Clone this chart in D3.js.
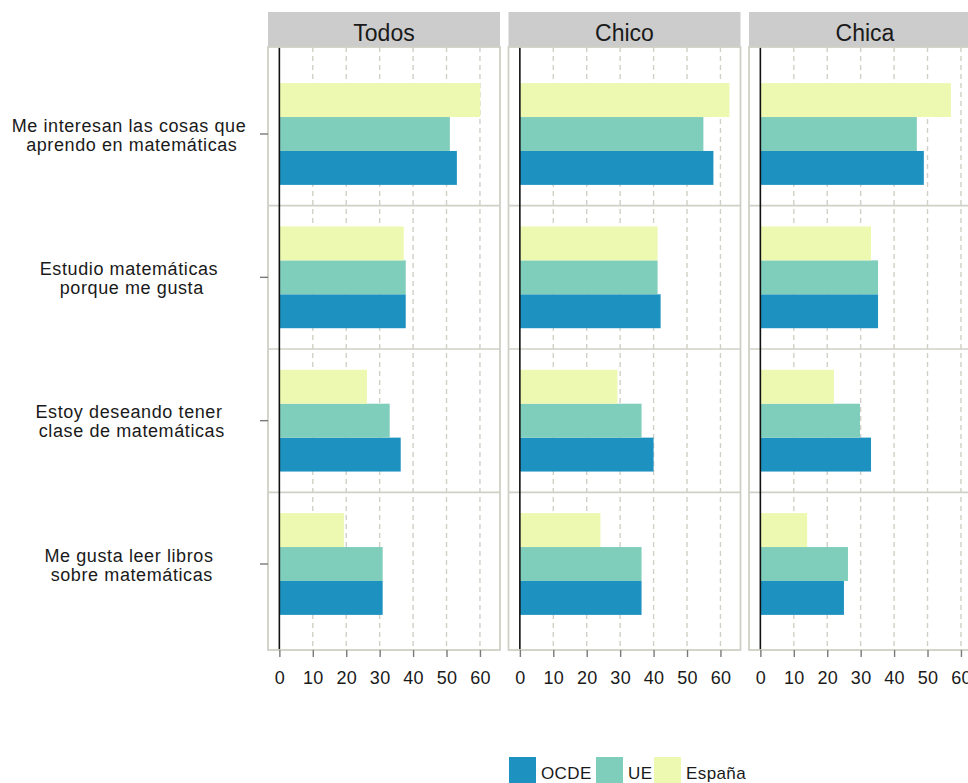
<!DOCTYPE html>
<html>
<head>
<meta charset="utf-8">
<script src="https://cdn.jsdelivr.net/npm/d3@7"></script>
<style>
  html, body { margin: 0; padding: 0; background: #ffffff; }
  svg { display: block; }
  text { font-family: "Liberation Sans", Arial, sans-serif; fill: #1a1a1a; }
</style>
</head>
<body>
<svg id="chart" width="968" height="783"></svg>
<script>
// ---------- data ----------
const categories = [
  ["Me interesan las cosas que", " aprendo en matemáticas"],
  ["Estudio matemáticas", " porque me gusta"],
  ["Estoy deseando tener", " clase de matemáticas"],
  ["Me gusta leer libros", " sobre matemáticas"]
];
const panels = ["Todos", "Chico", "Chica"];
const seriesNames = ["OCDE", "UE", "España"];
const seriesColors = ["#1d91c0", "#7fcdbb", "#edf8b1"];
const xTicks = [0, 10, 20, 30, 40, 50, 60];

// values per panel (Todos, Chico, Chica), per category (top to bottom)
const ocde   = [[53.1, 37.8, 36.3, 30.9], [57.9, 42.1, 40.0, 36.4], [48.9, 35.2, 33.1, 25.0]];
const ue     = [[51.0, 37.8, 33.0, 30.9], [54.9, 41.2, 36.4, 36.4], [46.8, 35.2, 29.8, 26.2]];
const espana = [[60.1, 37.2, 26.2, 19.3], [62.7, 41.2, 29.2, 24.1], [57.0, 33.1, 22.0, 14.0]];
const seriesValues = [ocde, ue, espana];

// ---------- layout ----------
const svg = d3.select("#chart");
const panelLeft0 = 268, panelW = 232, panelStep = 240.5;
const stripTop = 12, stripH = 35;
const plotTop = 47, plotBottom = 650;
const borderColor = "#d0d0c6";
const gridColor = "#d0d0c6";

const y = d3.scaleLinear().domain([-0.6, 3.6]).range([plotTop + 1, plotBottom]);
const groupW = 0.71;
const barW = groupW / 3;
// España on top, UE middle, OCDE bottom
const slot = { "España": 0, "UE": 1, "OCDE": 2 };

panels.forEach((pName, pi) => {
  const left = panelLeft0 + pi * panelStep;
  const x = d3.scaleLinear().domain([-3.4, 66]).range([left, left + panelW]);
  const g = svg.append("g");

  // strip
  g.append("rect").attr("x", left).attr("y", stripTop).attr("width", panelW).attr("height", stripH)
    .attr("fill", "#cccccc");
  g.append("text").attr("x", left + panelW / 2).attr("y", 40.5).attr("text-anchor", "middle")
    .attr("font-size", 23).text(pName);

  // vertical dashed grid
  g.selectAll("line.vg").data(xTicks.filter(d => d !== 0)).join("line")
    .attr("x1", d => x(d)).attr("x2", d => x(d))
    .attr("y1", plotTop).attr("y2", plotBottom)
    .attr("stroke", gridColor).attr("stroke-width", 1.4).attr("stroke-dasharray", "5,4");

  // horizontal solid lines between categories
  g.selectAll("line.hg").data([0.5, 1.5, 2.5]).join("line")
    .attr("x1", left).attr("x2", left + panelW)
    .attr("y1", d => y(d)).attr("y2", d => y(d))
    .attr("stroke", gridColor).attr("stroke-width", 1.6);

  // bars
  seriesNames.forEach((sName, si) => {
    const vals = seriesValues[si][pi];
    g.selectAll("rect.b" + si).data(vals).join("rect")
      .attr("x", x(0))
      .attr("width", d => x(d) - x(0))
      .attr("y", (d, ci) => y(ci - groupW / 2 + slot[sName] * barW))
      .attr("height", y(barW) - y(0))
      .attr("fill", seriesColors[si]);
  });

  // zero line
  g.append("line").attr("x1", x(0)).attr("x2", x(0)).attr("y1", plotTop).attr("y2", plotBottom)
    .attr("stroke", "#111111").attr("stroke-width", 1.6);

  // panel border
  g.append("rect").attr("x", left).attr("y", plotTop).attr("width", panelW).attr("height", plotBottom - plotTop)
    .attr("fill", "none").attr("stroke", borderColor).attr("stroke-width", 1.8);

  // x axis
  const ax = svg.append("g").attr("transform", `translate(0,${plotBottom})`)
    .call(d3.axisBottom(x).tickValues(xTicks).tickSize(7).tickPadding(14).tickFormat(d3.format("d")));
  ax.select(".domain").remove();
  ax.selectAll(".tick line").attr("stroke", "#7a7a7a").attr("stroke-width", 1.4);
  ax.selectAll(".tick text").attr("font-size", 18).attr("fill", "#1a1a1a")
    .style("letter-spacing", "0.3px").attr("font-family", "Liberation Sans, Arial, sans-serif");
});

// y axis ticks (left of first panel)
const ay = svg.append("g");
ay.selectAll("line").data(categories).join("line")
  .attr("x1", 260).attr("x2", panelLeft0)
  .attr("y1", (d, i) => y(i)).attr("y2", (d, i) => y(i))
  .attr("stroke", "#7a7a7a").attr("stroke-width", 1.4);
const labels = ay.selectAll("text").data(categories).join("text")
  .attr("text-anchor", "middle").attr("font-size", 18)
  .style("letter-spacing", "0.6px").style("white-space", "pre");
labels.append("tspan").attr("x", 129).attr("y", (d, i) => y(i) - 2.5).text(d => d[0]);
labels.append("tspan").attr("x", 129).attr("y", (d, i) => y(i) + 16.5).text(d => d[1]);

// legend
const legendX = [509, 596, 654];
const leg = svg.append("g");
seriesNames.forEach((s, i) => {
  leg.append("rect").attr("x", legendX[i]).attr("y", 757).attr("width", 27).attr("height", 27)
    .attr("fill", seriesColors[i]);
  leg.append("text").attr("x", legendX[i] + 32).attr("y", 778.5).attr("font-size", 17)
    .style("letter-spacing", "0.4px").text(s);
});
</script>
</body>
</html>
